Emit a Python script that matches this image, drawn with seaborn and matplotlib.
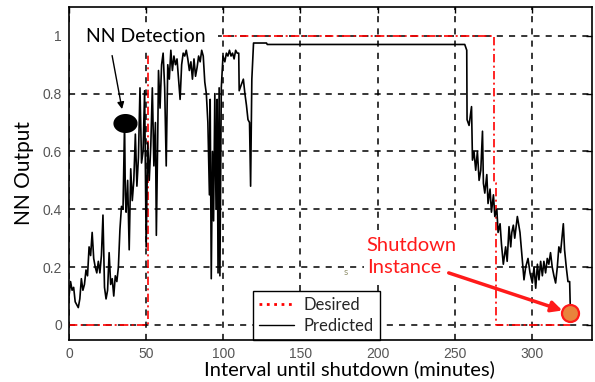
import numpy as np
import pandas as pd
import matplotlib
matplotlib.use("Agg")
import matplotlib.pyplot as plt
import seaborn as sns
from matplotlib.lines import Line2D
from matplotlib.path import Path
from matplotlib.patches import Rectangle

# ---------------- data ----------------
pred_x = [0, 1, 2, 3, 4, 5, 6, 7, 8, 9, 10, 11, 12, 13, 14, 15, 16, 17, 18, 19,
          20, 21, 22, 23, 24, 25, 26, 27, 28, 29, 30, 31, 32, 33, 34, 35, 36, 36.5,
          37, 38, 39, 40, 41, 42, 43, 44, 45, 46, 47, 48, 49, 50, 51, 52, 53, 54,
          55, 56, 56.6, 57.5, 58, 59, 60, 61, 62, 63, 64, 65, 66, 67, 68, 69, 70,
          71, 72, 73, 74, 75, 76, 77, 78, 79, 80, 81, 82, 83, 84, 85, 86, 87, 88,
          89, 90, 91, 91.5, 92.2, 93, 93.7, 94.5, 95.3, 96, 96.6, 97.3, 97.8, 98.7,
          99.8, 101, 102, 103, 104, 105, 106, 107, 108, 109, 110, 110.3, 111.6,
          113, 114, 115, 116, 117, 117.7, 118.5, 119.6, 128, 128.5, 256.5, 257.8,
          258, 259.3, 260.9, 261.5, 262.5, 263.6, 264.7, 265.8, 266.9, 268, 268.6,
          269.5, 270.8, 271.6, 272.9, 273.8, 275.1, 276, 277.3, 278.1, 279.4, 280.3,
          281.5, 283, 284, 285.2, 286.3, 287, 288, 288.9, 290.6, 292.3, 293.4,
          294.9, 296, 297.5, 298.8, 300.3, 301.4, 302.5, 303.6, 304.6, 305.7, 306.8,
          307.8, 308.9, 310, 311, 312.1, 313.2, 314.3, 315.4, 316.5, 317.5, 318.6,
          319.3, 320.4, 321.2, 322.3, 323.4, 324.5, 325]
pred_y = [0.10, 0.15, 0.12, 0.13, 0.08, 0.07, 0.06, 0.09, 0.16, 0.12, 0.14, 0.19,
          0.17, 0.27, 0.24, 0.32, 0.23, 0.20, 0.18, 0.22, 0.18, 0.24, 0.38, 0.13,
          0.09, 0.12, 0.25, 0.14, 0.16, 0.10, 0.17, 0.15, 0.20, 0.33, 0.41, 0.40,
          0.70, 0.45, 0.39, 0.50, 0.26, 0.54, 0.43, 0.50, 0.66, 0.48, 0.58, 0.82,
          0.56, 0.60, 0.81, 0.27, 0.63, 0.50, 0.62, 0.82, 0.55, 0.70, 0.31, 0.65,
          0.88, 0.75, 0.90, 0.94, 0.82, 0.55, 0.90, 0.85, 0.95, 0.88, 0.93, 0.90,
          0.92, 0.85, 0.78, 0.90, 0.94, 0.93, 0.95, 0.92, 0.88, 0.91, 0.85, 0.92,
          0.86, 0.89, 0.93, 0.91, 0.95, 0.93, 0.84, 0.80, 0.70, 0.45, 0.78, 0.16,
          0.60, 0.36, 0.80, 0.40, 0.78, 0.18, 0.82, 0.17, 0.82, 0.93, 0.91, 0.94,
          0.93, 0.95, 0.93, 0.94, 0.92, 0.95, 0.94, 0.94, 0.81, 0.83, 0.85, 0.80,
          0.76, 0.71, 0.70, 0.48, 0.85, 0.975, 0.975, 0.97, 0.97, 0.95, 0.71, 0.69,
          0.755, 0.57, 0.60, 0.535, 0.60, 0.50, 0.535, 0.67, 0.49, 0.456, 0.52,
          0.42, 0.47, 0.39, 0.45, 0.375, 0.40, 0.32, 0.35, 0.28, 0.21, 0.27, 0.22,
          0.34, 0.27, 0.32, 0.345, 0.30, 0.375, 0.32, 0.25, 0.156, 0.20, 0.23,
          0.18, 0.145, 0.20, 0.127, 0.21, 0.156, 0.22, 0.17, 0.22, 0.18, 0.23,
          0.21, 0.25, 0.20, 0.17, 0.145, 0.20, 0.27, 0.25, 0.29, 0.35, 0.26, 0.20,
          0.15, 0.15, 0.04]

desired_x = [0, 51, 51, 100, 275.3, 275.3, 276.5, 276.5, 325]
desired_y = [0, 0, 0.94, 1.0, 1.0, 0.49, 0.49, 0.0, 0.0]
desired_seg = [0, 0, 0, 1, 1, 1, 1, 1, 1]

detect_x, detect_y = [36], [0.70]
shutdown_x, shutdown_y = [325], [0.04]

x_ticks = [0, 50, 100, 150, 200, 250, 300]
y_ticks = [0, 0.2, 0.4, 0.6, 0.8, 1.0]
y_tick_labels = ["0", "0.2", "0.4", "0.6", "0.8", "1"]

legend_labels = ["Desired", "Predicted"]

# ---------------- style ----------------
sns.set_theme(style="white")
plt.rcParams["font.family"] = ["Lato", "DejaVu Sans"]

fig = plt.figure(figsize=(5.95, 3.82), dpi=100)
ax = fig.add_axes([0.116, 0.110, 0.879, 0.872])
ax.set_axisbelow(True)

df_pred = pd.DataFrame({"x": pred_x, "y": pred_y})
df_des = pd.DataFrame({"x": desired_x, "y": desired_y, "seg": desired_seg})

sns.lineplot(data=df_des, x="x", y="y", units="seg", estimator=None, sort=False,
             color="red", lw=1.2, ax=ax, legend=False, zorder=3)
for ln in ax.lines:
    ln.set_dashes((5, 2, 1.2, 2))

sns.lineplot(data=df_pred, x="x", y="y", estimator=None, sort=False,
             color="black", lw=1.2, ax=ax, legend=False, zorder=4)

ell = np.linspace(0, 2 * np.pi, 60)
ell_marker = Path(np.column_stack([np.cos(ell), 0.77 * np.sin(ell)]))
sns.scatterplot(x=detect_x, y=detect_y, marker=ell_marker, s=260, color="black",
                edgecolor="black", ax=ax, zorder=6, legend=False)
sns.scatterplot(x=shutdown_x, y=shutdown_y, s=150, color="#e8843c",
                edgecolor="#ff1a1a", linewidth=1.6, ax=ax, zorder=7, legend=False)

ax.set_xlim(1, 339)
ax.set_ylim(-0.052, 1.1)
ax.set_xticks(x_ticks)
ax.set_yticks(y_ticks)
ax.set_yticklabels(y_tick_labels)
for lab in ax.get_xticklabels() + ax.get_yticklabels():
    lab.set_family("Liberation Sans")
    lab.set_fontsize(10)
    lab.set_color("#555555")
ax.tick_params(direction="in", length=4, width=1, color="black", top=True, right=True,
               pad=5)

ax.grid(True, color="black", linestyle=(0, (4, 4)), linewidth=1.1)
for sp in ax.spines.values():
    sp.set_color("black")
    sp.set_linewidth(1.2)
    sp.set_zorder(10)

ax.set_xlabel("Interval until shutdown (minutes)", fontsize=14.5, color="black",
              va="center")
ax.xaxis.set_label_coords(0.537, -0.087)
ax.set_ylabel("NN Output", fontsize=15, color="black", labelpad=6)

# white label area behind the "NN Detection" call-out (hides grid there)
ax.add_patch(Rectangle((0.0, 0.945), 0.285, 0.10, transform=ax.get_yaxis_transform(),
                       facecolor="white", edgecolor="none", zorder=1))

# annotations
ax.text(50, 0.997, "NN Detection", fontsize=14, ha="center", va="center", color="black",
        zorder=8)
ax.annotate("", xy=(34.7, 0.737), xytext=(27.6, 0.941),
            arrowprops=dict(arrowstyle="-|>", color="black", lw=1.0, mutation_scale=10),
            zorder=8)
ax.text(193, 0.237, "Shutdown\nInstance", fontsize=14.5, ha="left", va="center",
        color="#ff1a1a", linespacing=1.35, zorder=2,
        bbox=dict(boxstyle="square,pad=0.15", facecolor="white", edgecolor="none"))
ax.annotate("", xy=(321.5, 0.047), xytext=(244.4, 0.183),
            arrowprops=dict(arrowstyle="-|>", color="#ff1a1a", lw=2.5, mutation_scale=16),
            zorder=8)
ax.text(179.5, 0.183, "s", fontsize=7, color="#8f8f6a", ha="center", va="center")

handles = [Line2D([], [], color="red", linestyle=":", lw=2),
           Line2D([], [], color="black", linestyle="-", lw=1.0)]
leg = ax.legend(handles, legend_labels, loc="lower left", bbox_to_anchor=(0.352, 0.0),
                borderaxespad=0, fontsize=12, frameon=True, fancybox=False,
                handlelength=2.1, handletextpad=0.6, borderpad=0.35, labelspacing=0.3)
leg.get_frame().set_edgecolor("black")
leg.get_frame().set_linewidth(1.0)
leg.get_frame().set_facecolor("white")
leg.get_frame().set_alpha(1)
leg.set_zorder(9)

fig.savefig("out.png", dpi=100)
